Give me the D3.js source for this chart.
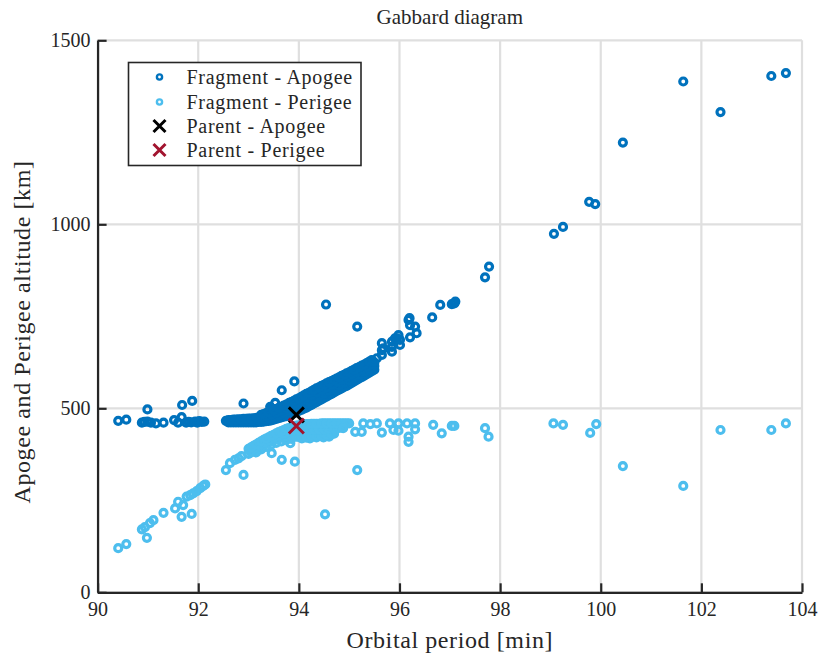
<!DOCTYPE html>
<html lang="en">
  <head>
    <meta charset="UTF-8" />
    <title>Gabbard diagram</title>
    <style>
      body { margin: 0; background: #fff; }
      text { font-family: "Liberation Serif", "Times New Roman", serif; fill: #262626; }
    </style>
  </head>
  <body>
    <svg id="svg" width="821" height="662"></svg>

    <script src="https://cdn.jsdelivr.net/npm/d3@7"></script>
    <script>
      const LEFT = 97.6;
      const RIGHT = 802;
      const TOP = 40.3;
      const BOTTOM = 592.3;
      const FONT = "'Liberation Serif', 'Times New Roman', serif";

      const X_TICKS = [90, 92, 94, 96, 98, 100, 102, 104];
      const Y_TICKS = [0, 500, 1000, 1500];

      const LEGEND_LABELS = [
        "Fragment - Apogee",
        "Fragment - Perigee",
        "Parent - Apogee",
        "Parent - Perigee",
      ];

      // parent object [period, altitude]
      const parentApogee = [93.95, 482];
      const parentPerigee = [93.95, 452];

      // fragment apogees [period (min), altitude (km)]
      const apogeeOutliers = [
        [90.41, 466], [90.57, 469], [90.88, 461], [90.93, 463], [90.99, 497], [90.99, 464],
        [91.06, 461], [91.16, 459], [91.31, 461], [91.52, 468], [91.60, 461], [91.67, 476],
        [91.68, 509], [91.88, 520], [91.76, 461], [91.81, 463], [91.86, 462], [91.94, 464],
        [91.98, 461], [92.02, 465], [92.07, 463], [92.12, 464], [92.55, 466], [92.90, 513],
        [93.43, 504], [93.46, 500], [93.53, 515], [93.66, 549], [93.81, 515], [93.91, 573],
        [94.54, 782], [95.16, 722],
      ];
      const apogeeBandLow = [
        [92.6, 462], [92.7, 462], [92.8, 462], [92.9, 462], [93.0, 462], [93.1, 462],
        [93.2, 463], [93.3, 464], [93.4, 466], [93.5, 469], [93.6, 473], [93.7, 477],
        [93.8, 482], [93.9, 487], [94.0, 493], [94.1, 499], [94.2, 506], [94.3, 513],
        [94.4, 521], [94.5, 528], [94.6, 536], [94.7, 543], [94.8, 551], [94.9, 558],
        [95.0, 565], [95.1, 573], [95.2, 581], [95.3, 589], [95.4, 597], [95.5, 605],
      ];
      const apogeeBandLowB = [
        [92.65, 462], [92.75, 462], [92.85, 462], [92.95, 462], [93.05, 462], [93.15, 462],
        [93.25, 463], [93.35, 465], [93.45, 467], [93.55, 471], [93.65, 475], [93.75, 479],
        [93.85, 484], [93.95, 490], [94.05, 496], [94.15, 502], [94.25, 509], [94.35, 517],
        [94.45, 524], [94.55, 532], [94.65, 539], [94.75, 547], [94.85, 554], [94.95, 561],
        [95.05, 569], [95.15, 577], [95.25, 585], [95.35, 593], [95.45, 601],
      ];
      const apogeeBandMid = [
        [92.65, 465], [92.75, 466], [92.85, 466], [92.95, 467], [93.05, 467], [93.15, 468],
        [93.25, 470], [93.35, 472], [93.45, 475], [93.55, 479], [93.65, 484], [93.75, 490],
        [93.85, 496], [93.95, 502], [94.05, 508], [94.15, 515], [94.25, 522], [94.35, 530],
        [94.45, 537], [94.55, 544], [94.65, 552], [94.75, 559], [94.85, 566], [94.95, 573],
        [95.05, 580], [95.15, 588], [95.25, 595], [95.35, 603], [95.45, 611],
      ];
      const apogeeBandMidB = [
        [92.7, 465], [92.8, 466], [92.9, 466], [93.0, 467], [93.1, 467], [93.2, 469],
        [93.3, 471], [93.4, 473], [93.5, 477], [93.6, 481], [93.7, 487], [93.8, 493],
        [93.9, 499], [94.0, 505], [94.1, 511], [94.2, 518], [94.3, 526], [94.4, 533],
        [94.5, 540], [94.6, 548], [94.7, 555], [94.8, 562], [94.9, 569], [95.0, 576],
        [95.1, 584], [95.2, 591], [95.3, 599], [95.4, 607], [95.5, 615],
      ];
      const apogeeBandHigh = [
        [92.6, 468], [92.7, 469], [92.8, 470], [92.9, 471], [93.0, 472], [93.1, 473],
        [93.2, 475], [93.3, 478], [93.4, 481], [93.5, 486], [93.6, 491], [93.7, 497],
        [93.8, 504], [93.9, 511], [94.0, 518], [94.1, 525], [94.2, 532], [94.3, 540],
        [94.4, 547], [94.5, 554], [94.6, 561], [94.7, 568], [94.8, 575], [94.9, 582],
        [95.0, 589], [95.1, 596], [95.2, 603], [95.3, 610], [95.4, 617], [95.5, 624],
      ];
      const apogeeBandHighB = [
        [92.65, 468], [92.75, 469], [92.85, 470], [92.95, 471], [93.05, 472], [93.15, 474],
        [93.25, 476], [93.35, 479], [93.45, 483], [93.55, 488], [93.65, 494], [93.75, 500],
        [93.85, 507], [93.95, 514], [94.05, 521], [94.15, 528], [94.25, 536], [94.35, 543],
        [94.45, 550], [94.55, 557], [94.65, 564], [94.75, 571], [94.85, 578], [94.95, 585],
        [95.05, 592], [95.15, 599], [95.25, 606], [95.35, 613], [95.45, 620],
      ];
      const apogeeBandTop = [
        [93.25, 482], [93.35, 487], [93.45, 492], [93.55, 498], [93.65, 504], [93.75, 510],
        [93.85, 517], [93.95, 524], [94.05, 531], [94.15, 539], [94.25, 546], [94.35, 554],
        [94.45, 561], [94.55, 568], [94.65, 574], [94.75, 581], [94.85, 588], [94.95, 595],
        [95.05, 602], [95.15, 609], [95.25, 616], [95.35, 623], [95.45, 631],
      ];
      const apogeeBandTopB = [
        [93.3, 484], [93.4, 489], [93.5, 495], [93.6, 501], [93.7, 507], [93.8, 513],
        [93.9, 520], [94.0, 527], [94.1, 535], [94.2, 542], [94.3, 550], [94.4, 557],
        [94.5, 564], [94.6, 571], [94.7, 577], [94.8, 584], [94.9, 591], [95.0, 598],
        [95.1, 605], [95.2, 612], [95.3, 619], [95.4, 627],
      ];
      const apogeeHigh = [
        [95.48, 627], [95.55, 636], [95.65, 645], [95.65, 658], [95.68, 663], [95.65, 677],
        [95.85, 654], [95.85, 667], [95.85, 681], [95.91, 690], [95.95, 690], [95.98, 699],
        [96.01, 686], [96.01, 672], [96.18, 740], [96.20, 745], [96.21, 726], [96.31, 722],
        [96.34, 704], [96.21, 693], [96.65, 747], [96.81, 781], [97.04, 783], [97.09, 785],
        [97.11, 790], [97.70, 856], [97.78, 885], [99.07, 974], [99.25, 993], [99.77, 1061],
        [99.89, 1055], [100.44, 1222], [101.64, 1388], [102.38, 1305], [103.39, 1403],
        [103.68, 1411],
      ];

      // fragment perigees [period (min), altitude (km)]
      const perigeeLow = [
        [90.41, 120], [90.57, 131], [90.88, 171], [90.94, 177], [90.98, 148], [91.04, 188],
        [91.11, 196], [91.31, 216], [91.54, 228], [91.60, 246], [91.67, 205], [91.70, 237],
        [91.77, 260], [91.84, 264], [91.87, 213], [91.90, 269], [91.97, 275], [92.04, 283],
        [92.10, 289], [92.14, 293], [92.55, 332], [92.63, 351], [92.73, 360], [92.80, 364],
        [92.86, 370], [92.90, 319], [93.46, 378], [93.66, 360], [93.92, 355], [93.83, 405],
        [94.06, 418], [94.22, 418], [94.49, 421], [94.52, 212], [95.16, 332],
      ];
      const perigeeBandBottom = [
        [93.15, 380], [93.25, 388], [93.35, 395], [93.45, 401], [93.55, 406], [93.65, 410],
        [93.75, 414], [93.85, 417], [94.15, 420], [94.35, 421], [94.6, 423],
      ];
      const perigeeBandLow = [
        [93.0, 376], [93.1, 384], [93.2, 392], [93.3, 400], [93.4, 407], [93.5, 413],
        [93.6, 418], [93.7, 422], [93.8, 425], [93.9, 424], [94.0, 422], [94.1, 423],
        [94.2, 424], [94.3, 425], [94.4, 426], [94.5, 427], [94.6, 429], [94.7, 431],
      ];
      const perigeeBandLowB = [
        [93.05, 380], [93.15, 388], [93.25, 396], [93.35, 403], [93.45, 410], [93.55, 416],
        [93.65, 420], [93.75, 424], [93.85, 425], [93.95, 423], [94.05, 422], [94.15, 423],
        [94.25, 424], [94.35, 425], [94.45, 426], [94.55, 428], [94.65, 430],
      ];
      const perigeeBandMid = [
        [93.05, 386], [93.15, 394], [93.25, 402], [93.35, 410], [93.45, 417], [93.55, 423],
        [93.65, 429], [93.75, 434], [93.85, 438], [93.95, 440], [94.05, 440], [94.15, 441],
        [94.25, 442], [94.35, 442], [94.45, 443], [94.55, 444], [94.65, 445], [94.75, 446],
        [94.85, 448],
      ];
      const perigeeBandMidB = [
        [93.1, 391], [93.2, 399], [93.3, 407], [93.4, 414], [93.5, 420], [93.6, 426],
        [93.7, 431], [93.8, 436], [93.9, 439], [94.0, 440], [94.1, 440], [94.2, 441],
        [94.3, 442], [94.4, 443], [94.5, 443], [94.6, 444], [94.7, 445], [94.8, 447],
      ];
      const perigeeBandHigh = [
        [93.0, 390], [93.1, 398], [93.2, 406], [93.3, 414], [93.4, 421], [93.5, 428],
        [93.6, 435], [93.7, 441], [93.8, 446], [93.9, 451], [94.0, 454], [94.1, 456],
        [94.2, 457], [94.3, 458], [94.4, 458], [94.5, 459], [94.6, 459], [94.7, 459],
        [94.8, 459], [94.9, 459], [95.0, 459],
      ];
      const perigeeBandHighB = [
        [93.05, 394], [93.15, 402], [93.25, 410], [93.35, 418], [93.45, 425], [93.55, 432],
        [93.65, 438], [93.75, 444], [93.85, 449], [93.95, 453], [94.05, 455], [94.15, 457],
        [94.25, 458], [94.35, 458], [94.45, 459], [94.55, 459], [94.65, 459], [94.75, 459],
        [94.85, 459], [94.95, 459],
      ];
      const perigeeRow = [
        [94.88, 446], [95.12, 436], [95.25, 436], [95.28, 459], [95.42, 457], [95.55, 459],
        [95.65, 434], [95.81, 459], [95.88, 441], [95.98, 459], [95.98, 439], [96.15, 459],
        [96.18, 423], [96.18, 409], [96.31, 459], [96.31, 443], [96.67, 455], [96.84, 432],
        [97.04, 452], [97.09, 452], [97.70, 446], [97.77, 423], [99.06, 459], [99.25, 455],
        [99.79, 433], [99.91, 457], [100.44, 343], [101.64, 289], [102.38, 441],
        [103.39, 441], [103.68, 459],
      ];

      const APOGEE_COLOR = "#0072BD";
      const PERIGEE_COLOR = "#4DBEEE";
      const PARENT_PERIGEE_COLOR = "#A2142F";

      const xScale = d3.scaleLinear().domain([90, 104]).range([LEFT, RIGHT]);
      const yScale = d3.scaleLinear().domain([0, 1500]).range([BOTTOM, TOP]);

      const svg = d3.select("#svg");

      // grid
      const grid = svg.append("g").attr("stroke", "#dfdfdf").attr("stroke-width", 2.2);
      grid
        .selectAll("line.gx")
        .data(X_TICKS)
        .join("line")
        .attr("x1", (d) => xScale(d))
        .attr("x2", (d) => xScale(d))
        .attr("y1", TOP)
        .attr("y2", BOTTOM);
      grid
        .selectAll("line.gy")
        .data(Y_TICKS)
        .join("line")
        .attr("x1", LEFT)
        .attr("x2", RIGHT)
        .attr("y1", (d) => yScale(d))
        .attr("y2", (d) => yScale(d));

      // fragments
      function drawRings(data, color) {
        svg
          .append("g")
          .selectAll("circle")
          .data(data)
          .join("circle")
          .attr("cx", (d) => xScale(d[0]))
          .attr("cy", (d) => yScale(d[1]))
          .attr("r", 3.5)
          .attr("fill", "none")
          .attr("stroke", color)
          .attr("stroke-width", 3.2);
      }

      drawRings(
        apogeeOutliers.concat(
          apogeeBandLow, apogeeBandLowB, apogeeBandMid, apogeeBandMidB,
          apogeeBandHigh, apogeeBandHighB, apogeeBandTop, apogeeBandTopB, apogeeHigh
        ),
        APOGEE_COLOR
      );
      drawRings(
        perigeeLow.concat(
          perigeeBandBottom, perigeeBandLow, perigeeBandLowB, perigeeBandMid,
          perigeeBandMidB, perigeeBandHigh, perigeeBandHighB, perigeeRow
        ),
        PERIGEE_COLOR
      );

      function drawCross(g, cx, cy, size, color) {
        g.append("path")
          .attr("d", `M${cx - size},${cy - size}L${cx + size},${cy + size}M${cx - size},${cy + size}L${cx + size},${cy - size}`)
          .attr("stroke", color)
          .attr("stroke-width", 3)
          .attr("fill", "none");
      }

      const parents = svg.append("g");
      drawCross(parents, xScale(parentApogee[0]), yScale(parentApogee[1]), 7.5, "#000");
      drawCross(parents, xScale(parentPerigee[0]), yScale(parentPerigee[1]), 7.5, PARENT_PERIGEE_COLOR);

      // axes
      const leftAxis = d3
        .axisLeft(yScale)
        .tickValues(Y_TICKS)
        .tickFormat(d3.format("d"))
        .tickSizeInner(-9)
        .tickSizeOuter(0)
        .tickPadding(7);
      const bottomAxis = d3
        .axisBottom(xScale)
        .tickValues(X_TICKS)
        .tickFormat(d3.format("d"))
        .tickSizeInner(-9)
        .tickSizeOuter(0)
        .tickPadding(10);

      const gy = svg.append("g").attr("transform", `translate(${LEFT}, 0)`).call(leftAxis);
      const gx = svg.append("g").attr("transform", `translate(0, ${BOTTOM})`).call(bottomAxis);

      [gx, gy].forEach((g) => {
        g.select(".domain").attr("stroke", "#262626").attr("stroke-width", 2.2);
        g.selectAll(".tick line").attr("stroke", "#262626").attr("stroke-width", 2.2);
        g.selectAll(".tick text")
          .style("font-family", FONT)
          .style("font-size", "20px")
          .attr("fill", "#262626");
      });

      // labels
      svg
        .append("text")
        .attr("x", (LEFT + RIGHT) / 2)
        .attr("y", 24)
        .attr("text-anchor", "middle")
        .style("font-size", "21px")
        .text("Gabbard diagram");

      svg
        .append("text")
        .attr("x", (LEFT + RIGHT) / 2)
        .attr("y", 648)
        .attr("text-anchor", "middle")
        .style("font-size", "24px")
        .attr("letter-spacing", 0.6)
        .text("Orbital period [min]");

      svg
        .append("text")
        .attr("transform", "translate(30, 332) rotate(-90)")
        .attr("text-anchor", "middle")
        .style("font-size", "24px")
        .attr("letter-spacing", 0.6)
        .text("Apogee and Perigee altitude [km]");

      // legend
      const legend = svg.append("g").attr("transform", "translate(128.5, 62.5)");
      legend
        .append("rect")
        .attr("width", 232.5)
        .attr("height", 103)
        .attr("fill", "#fff")
        .attr("stroke", "#262626")
        .attr("stroke-width", 1.6);

      const rowY = [14.5, 39.5, 63.5, 87.5];
      LEGEND_LABELS.forEach((label, i) => {
        const cy = rowY[i];
        if (i < 2) {
          legend
            .append("circle")
            .attr("cx", 31)
            .attr("cy", cy)
            .attr("r", 2.6)
            .attr("fill", "none")
            .attr("stroke", i === 0 ? APOGEE_COLOR : PERIGEE_COLOR)
            .attr("stroke-width", 2.4);
        } else {
          drawCross(legend, 31, cy, 6, i === 2 ? "#000" : PARENT_PERIGEE_COLOR);
        }
        legend
          .append("text")
          .attr("x", 58)
          .attr("y", cy + 6.5)
          .style("font-size", "20px")
          .attr("letter-spacing", 0.7)
          .text(label);
      });
    </script>
  </body>
</html>
